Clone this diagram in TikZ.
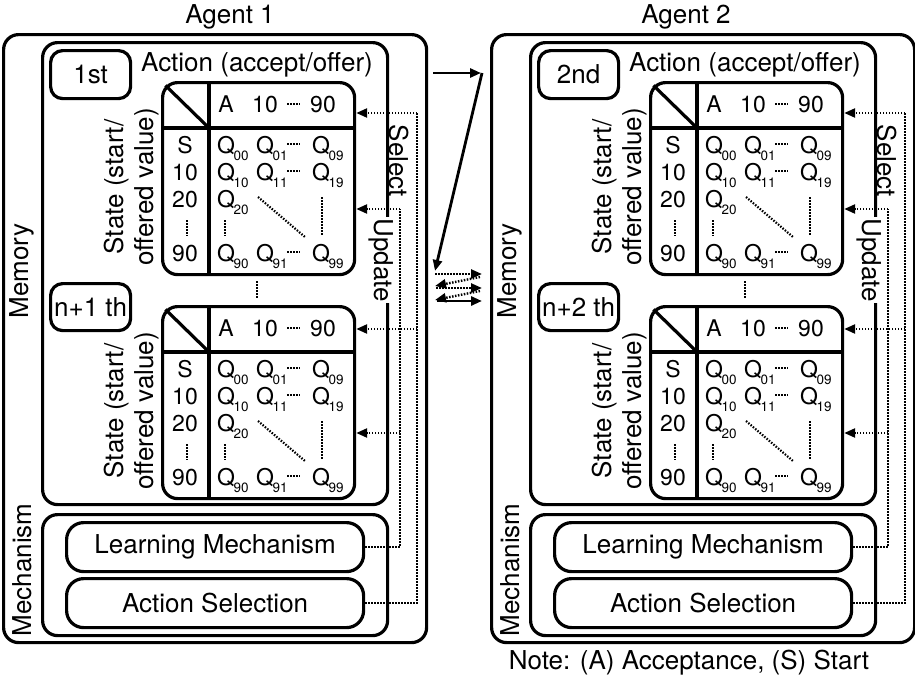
\documentclass[tikz,border=0pt]{standalone}
\usepackage{fontspec}
\setmainfont{TeX Gyre Heros}
\usetikzlibrary{arrows.meta}
\tikzset{
  box/.style={draw, line width=3.2pt, rounded corners=15pt, inner sep=0pt},
  lbl/.style={font=\fontsize{26}{30}\selectfont, inner sep=0pt},
  tl/.style={font=\fontsize{23}{27}\selectfont, inner sep=0pt},
  dotln/.style={line width=2.4pt, dash pattern=on 1.5pt off 1.5pt},
  dotarr/.style={dotln, -{Triangle[length=11pt,width=9pt]}},
  solarr/.style={line width=2.8pt, -{Triangle[length=11pt,width=9pt]}},
  qdots/.style={line width=2.2pt, dash pattern=on 1.5pt off 1.5pt},
}
\newcommand\qq[1]{Q\kern-1.5pt\raisebox{-7pt}{\fontsize{13.5}{13.5}\selectfont #1}}
\newcommand\qtable[2]{%
\begin{scope}[shift={(0,#2)}, name prefix=#1]
  \node[box, anchor=north west, minimum width=192pt, minimum height=192pt] (tab) at (161,81) {};
  \draw[line width=3.2pt] (209,81) -- (209,273);
  \draw[line width=3.2pt] (161,128) -- (353,128);
  \draw[line width=3.2pt] (165.4,85.4) -- (209,128);
  \node[tl, anchor=base] (hA) at (226,112) {A};
  \node[tl, anchor=base] (h10) at (265,112) {10};
  \draw[qdots] (287,104) -- (300,104);
  \node[tl, anchor=base] (h90) at (323,112) {90};
  % row labels
  \node[tl, anchor=base] (rS) at (185,153) {S};
  \node[tl, anchor=base] (r10) at (185,180) {10};
  \node[tl, anchor=base] (r20) at (185,207) {20};
  \draw[qdots] (187,220) -- (187,236);
  \node[tl, anchor=base] (r90) at (185,261) {90};
  % Q values
  \node[tl, anchor=base west] (q00) at (217,153) {\qq{00}};
  \node[tl, anchor=base west] (q01) at (256,153) {\qq{01}};
  \draw[qdots] (287,144) -- (300,144);
  \node[tl, anchor=base west] (q09) at (312,153) {\qq{09}};
  \node[tl, anchor=base west] (q10) at (217,180) {\qq{10}};
  \node[tl, anchor=base west] (q11) at (256,180) {\qq{11}};
  \draw[qdots] (287,171) -- (300,171);
  \node[tl, anchor=base west] (q19) at (312,180) {\qq{19}};
  \node[tl, anchor=base west] (q20) at (217,207) {\qq{20}};
  \draw[qdots] (225,220) -- (225,236);
  \draw[qdots] (258,197) -- (305,237);
  \draw[qdots] (322,197) -- (322,236);
  \node[tl, anchor=base west] (q90) at (217,261) {\qq{90}};
  \node[tl, anchor=base west] (q91) at (256,261) {\qq{91}};
  \draw[qdots] (287,252) -- (300,252);
  \node[tl, anchor=base west] (q99) at (312,261) {\qq{99}};
\end{scope}}
\newcommand\agent[4]{%
\begin{scope}[shift={(#2,0)}, name prefix=#1-]
  \node[box, anchor=north west, minimum width=423pt, minimum height=608pt] (outer) at (2,33) {};
  \node[box, anchor=north west, minimum width=345pt, minimum height=462pt] (mem) at (41,41) {};
  \node[box, anchor=north west, minimum width=345pt, minimum height=121pt] (mech) at (41,513) {};
  \node[lbl, rotate=90] (memlbl) at (22,271) {Memory};
  \node[lbl, rotate=90] (mechlbl) at (22,570) {Mechanism};
  \node[box, lbl, rounded corners=12pt, minimum width=80pt, minimum height=48pt, anchor=north west] (first) at (49,49) {#3};
  \node[box, lbl, rounded corners=12pt, minimum width=80pt, minimum height=47pt, anchor=north west] (second) at (49,282) {#4};
  \node[lbl] (act) at (257,65) {Action (accept/offer)};
  \node[lbl, rotate=90, align=center] (st1) at (132,187) {State (start/\\offered value)};
  \node[lbl, rotate=90, align=center] (st2) at (132,411) {State (start/\\offered value)};
  \qtable{#1-t1-}{0}
  \qtable{#1-t2-}{224}
  \draw[qdots, line width=2.4pt] (257,281) -- (257,299);
  \node[lbl, rotate=-90] (sel) at (399,161) {Select};
  \node[lbl, rotate=-90, fill=white, inner sep=1pt] (upd) at (381,260) {Update};
  \node[box, lbl, rounded corners=17pt, minimum width=297pt, minimum height=49pt, anchor=north west] (lm) at (65,521) {Learning Mechanism};
  \node[box, lbl, rounded corners=17pt, minimum width=297pt, minimum height=49pt, anchor=north west] (as) at (65,577) {Action Selection};
  \coordinate (selT) at (417,113);
  \coordinate (selB) at (417,329);
  \coordinate (updT) at (400,209);
  \coordinate (updB) at (400,433);
  \draw[dotln] (as.east) -| (selT);
  \draw[dotarr] (selT) -- (selT -| t1-tab.east);
  \draw[dotarr] (selB) -- (selB -| t2-tab.east);
  \draw[dotln] (lm.east) -| (updT);
  \draw[dotarr] (updT) -- (updT -| t1-tab.east);
  \draw[dotarr] (updB) -- (updB -| t2-tab.east);
\end{scope}}
\begin{document}
\begin{tikzpicture}[x=1pt, y=-1pt]
  \useasboundingbox (0,0) rectangle (915,680);
  \node[lbl] (title1) at (230,17) {Agent 1};
  \node[lbl] (title2) at (686,17) {Agent 2};
  \agent{a1}{0}{1st}{n+1 th}
  \agent{a2}{488}{2nd}{n+2 th}
  % exchange arrows between agents
  \coordinate (mA) at (433,73);
  \coordinate (mB) at (481,73);
  \coordinate (mC) at (435,271);
  \draw[solarr] (mA) -- (mB);
  \draw[solarr] (482,73) -- (mC);
  \coordinate (e1l) at (435,274);
  \coordinate (e1r) at (482,274);
  \coordinate (e2r) at (480,277);
  \coordinate (e2l) at (435,286);
  \coordinate (e3l) at (436,288);
  \coordinate (e3r) at (482,288);
  \coordinate (e4r) at (480,291);
  \coordinate (e4l) at (435,300);
  \coordinate (e5l) at (437,301);
  \coordinate (e5r) at (482,301);
  \draw[dotarr] (e1l) -- (e1r);
  \draw[dotarr] (e2r) -- (e2l);
  \draw[dotarr] (e3l) -- (e3r);
  \draw[dotarr] (e4r) -- (e4l);
  \draw[solarr] (e5l) -- (e5r);
  \node[lbl] (note) at (689,663) {Note: (A) Acceptance, (S) Start};
\end{tikzpicture}
\end{document}
